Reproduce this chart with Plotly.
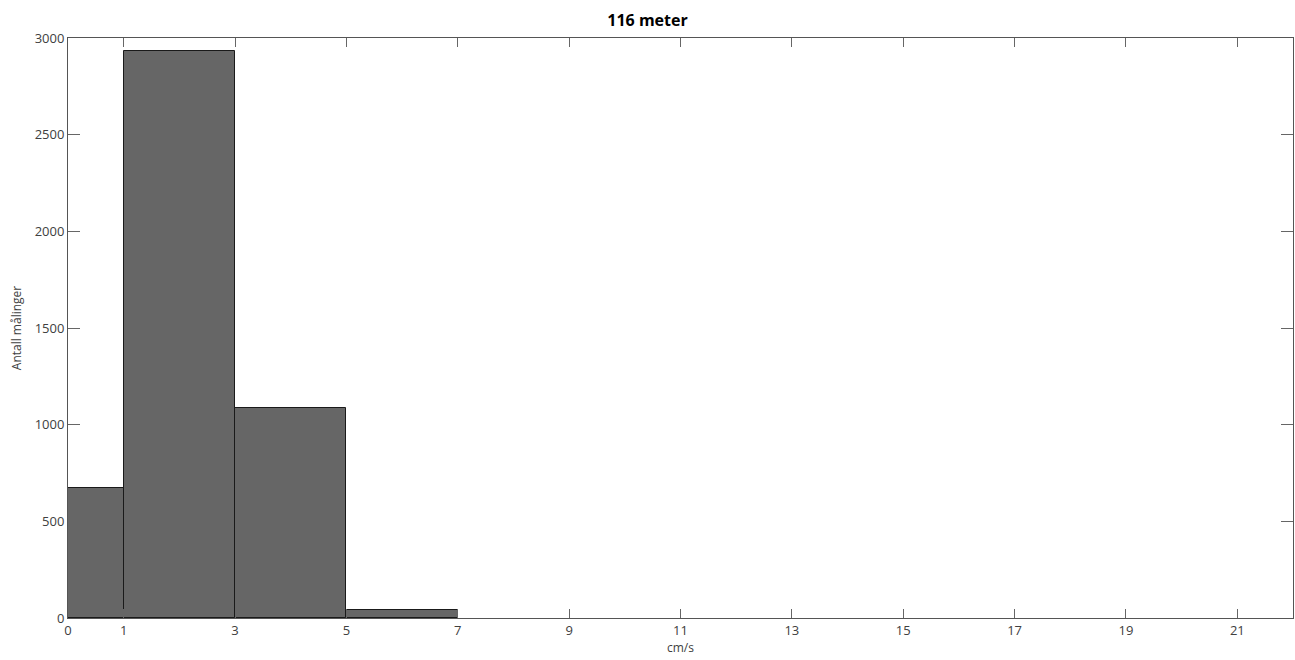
import plotly.graph_objects as go

# histogram bins (cm/s) and counts
bin_left = [0, 1, 3, 5]
bin_right = [1, 3, 5, 7]
counts = [670, 2935, 1086, 43]

x_ticks = [0, 1, 3, 5, 7, 9, 11, 13, 15, 17, 19, 21]
y_ticks = [0, 500, 1000, 1500, 2000, 2500, 3000]

centers = [(a + b) / 2 for a, b in zip(bin_left, bin_right)]
widths = [b - a for a, b in zip(bin_left, bin_right)]

fig = go.Figure()
fig.add_trace(
    go.Bar(
        x=centers,
        y=counts,
        width=widths,
        marker=dict(color="#666666", line=dict(color="#1a1a1a", width=1)),
        showlegend=False,
    )
)

axis_style = dict(
    showline=True,
    linecolor="#555555",
    linewidth=1,
    mirror="allticks",
    ticks="inside",
    tickcolor="#666666",
    showgrid=False,
    zeroline=False,
    tickfont=dict(family="Open Sans", size=13, color="#404040"),
)

fig.update_xaxes(
    range=[0, 22],
    tickvals=x_ticks,
    ticklen=9,
    title=dict(text="cm/s", font=dict(family="Open Sans", size=12, color="#404040"), standoff=6),
    **axis_style,
)
fig.update_yaxes(
    range=[0, 3000],
    tickvals=y_ticks,
    ticklen=12,
    title=dict(text="Antall målinger", font=dict(family="Open Sans", size=12, color="#404040"), standoff=10),
    **axis_style,
)

fig.update_layout(
    width=1295,
    height=660,
    title=dict(
        text="<b>116 meter</b>",
        x=0.5,
        xanchor="center",
        y=0.978,
        font=dict(family="Open Sans", size=16, color="#000000"),
    ),
    paper_bgcolor="white",
    plot_bgcolor="white",
    margin=dict(l=68, r=2, t=38, b=42),
    bargap=0,
)

# drop the default 8px page margin so the figure sits at the window corner
no_margin = "document.body.style.margin='0';document.body.style.overflow='hidden';"
fig.write_html("out.html", post_script=no_margin, config={"displayModeBar": False})
